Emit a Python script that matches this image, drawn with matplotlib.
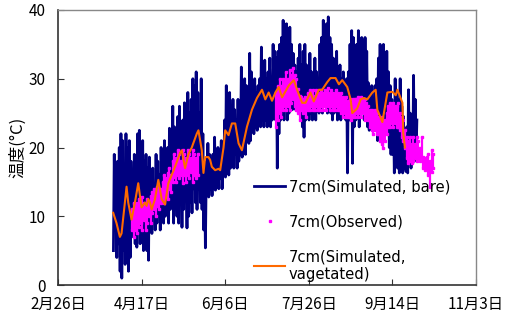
import matplotlib
matplotlib.use("Agg")
import matplotlib.pyplot as plt
import numpy as np

plt.rcParams['font.family'] = ['Noto Sans CJK JP', 'DejaVu Sans']

# ---- data (day index: 0 = 2月26日) ----
tick_days = [0, 50, 100, 150, 200, 250]
tick_labels = ['2月26日', '4月17日', '6月6日', '7月26日', '9月14日', '11月3日']
y_ticks = [0, 10, 20, 30, 40]

bare_start_day = 33
bare_max = [19, 17, 18, 20, 22, 21, 16, 22, 20, 21,
            18, 15, 19, 17, 22, 22.5, 20, 21, 18, 19,
            17, 18.6, 15, 17, 14, 19, 18, 16, 20, 19,
            21, 18, 20, 22.8, 19, 26, 23, 21, 24.5, 26,
            22, 24, 26.5, 20, 28, 25, 27, 30, 29, 31,
            28, 25, 30, 22, 18, 16, 20.6, 19, 17, 19,
            21.5, 18, 20, 19.6, 21, 17, 24, 29, 26.5, 28,
            26, 27, 25.5, 24, 27, 25.5, 31.7, 28, 30, 29,
            28, 33.7, 31, 29, 30, 28, 29, 30, 34.6, 32,
            32.7, 30, 31, 33, 30, 35, 34, 33, 34, 35,
            36, 38.5, 37.5, 38, 36, 37.5, 35, 33.7, 32, 31,
            33, 35, 32, 34, 35, 32, 30, 33.7, 31, 30,
            33, 31, 30, 35, 36, 38.5, 37, 38, 39, 36,
            35, 33, 30, 34, 31, 32, 30, 31, 29, 30,
            31, 35, 37, 36, 34, 35, 37, 34, 36, 35.6,
            36, 34, 29.4, 28, 29, 27, 29, 30, 33, 35,
            34, 35, 33, 34, 31, 29, 27, 25, 30, 28,
            27, 30, 26, 24.5, 22, 23, 28.4, 25, 22, 30.5, 27, 24]
bare_min = [5, 8, 4, 6, 2, 1, 5, 3, 6, 2,
            4, 7, 9, 6, 5.5, 8, 6, 7, 5, 6,
            5, 3.6, 8, 7.5, 10, 8, 9, 10, 8, 11,
            9, 10, 12, 9, 11, 13, 9, 12, 10, 9,
            12, 8.4, 11, 13, 8.3, 10, 12, 10.5, 14, 12,
            11, 14, 12, 11, 8, 5.4, 13, 12.8, 14, 13,
            14, 13.8, 15, 14, 15.5, 14, 16, 15.7, 17, 16,
            17, 18, 17, 19, 17, 18, 19, 18.6, 20, 19,
            21, 20.6, 21, 22.5, 22, 23, 22.5, 24, 23, 24,
            23, 24, 23, 25, 23, 24, 25, 24, 17, 22,
            24, 25, 24, 26, 24, 25, 26, 25.5, 26, 25.5,
            26, 25.5, 24, 23, 21.5, 24, 25, 24, 25, 24,
            25, 24, 26, 25, 26, 25, 27, 26, 25, 26,
            25, 24, 25, 26, 24, 25, 24, 24.5, 25, 24,
            16.3, 24, 25, 17.7, 23, 24, 25, 23, 25, 26,
            24, 25, 23, 22.5, 23, 24, 22.5, 23, 21, 24,
            22, 24, 21, 22, 23, 20, 19, 19, 16.3, 18,
            17, 16.3, 18, 16.3, 17, 16.5, 16.3, 18, 17, 17.7, 18, 19]

veg_days = [33, 35, 37, 38, 40, 41, 42, 44, 46, 48, 49, 50, 52, 53, 54, 55, 56, 58,
            60, 62, 64, 66, 68, 70, 73, 74, 76, 78, 80, 83, 84, 86, 87, 88, 90, 91,
            92, 94, 96, 97, 99, 100, 102, 104, 106, 108, 110, 113, 116, 119, 122, 124,
            126, 128, 130, 132, 134, 138, 141, 143, 146, 148, 151, 153, 156, 158, 161,
            163, 166, 168, 170, 173, 175, 176, 179, 181, 183, 185, 188, 190, 191, 194,
            197, 200, 202, 203, 206, 206.5, 207.5]
veg_vals = [10.5, 9, 7, 7.5, 12, 14.3, 12, 9.5, 12, 14.8, 13, 11.3, 12, 11.5, 12.5, 12, 11, 12.5,
            15.3, 12.5, 11.7, 14.8, 16, 17.2, 19.2, 19.6, 17, 19, 20, 22, 22.5, 19.6, 16.3, 18.6, 18.6, 18.2,
            17.2, 16.7, 16.9, 16.7, 20, 22.5, 21.8, 23.5, 23.5, 20.6, 19.6, 23, 25.5, 27.2, 28.4, 27,
            28, 26.8, 28, 28.8, 27.3, 29, 29.8, 28.4, 26.5, 26.5, 28, 26.7, 28.4, 28.4, 29.5,
            30.1, 30.1, 29.2, 29.8, 28.8, 27, 25, 25.7, 27, 27.2, 27, 28, 28.4, 25.5, 23.7,
            28, 28.1, 27.6, 28.4, 26.5, 22, 20]

obs1_start_day = 44
obs1_low = [8, 7, 8, 7.5, 8.5, 9, 8, 9.5, 8, 9, 10, 9, 10.5, 11, 10, 11.5, 11, 12,
            12.4, 12, 13, 12.5, 14, 13.5, 15, 15.7, 15, 16, 15.5, 16, 14.8, 16, 15, 16,
            15.5, 16.5, 15, 16, 15.5, 16]
obs1_high = [11, 12, 11.5, 12, 12.5, 12, 12.8, 12, 11.5, 12.5, 12, 13, 13.5, 14, 13.5, 14.3, 14, 14,
             15, 16, 15.5, 16.3, 17, 16, 18, 19, 18.5, 19.6, 19, 18, 19.6, 19, 18.5, 19.6,
             19, 18.5, 19.6, 19, 18.5, 19]
obs2_start_day = 130
obs2_low = [23, 24, 25, 24.5, 25.5, 26, 25.5, 26, 25.5, 26.5, 27, 26, 25.5, 25, 24,
            25.5, 25, 25.5, 24.5, 25.5, 25.5, 26, 25.5, 25.5, 26, 25.5, 25.5, 26, 25.5, 26,
            25.5, 26, 25.5, 26, 25.5, 25.5, 26, 25.5, 25.5, 25, 24.5, 25, 24.5, 24.5, 24.5,
            24, 24.5, 24.5, 25, 24.5, 25, 24.5, 25, 24, 24.5, 24, 23, 22.5, 22, 22.5,
            22, 22, 21, 20.5, 20, 21, 22, 23, 23, 23.5, 23, 23.5, 23, 23, 22.5,
            21.5, 21, 20, 18.5, 17.7, 18, 17.7, 18, 18.5, 18, 18.5, 18, 18.5, 17, 16.7,
            17, 16, 14.3, 16.5, 17]
obs2_high = [28, 29, 30, 29, 30, 29.5, 31, 30, 31.3, 30.5, 31.5, 30.5, 30, 28.5, 27.5,
             27.3, 27, 27.3, 27, 28, 28.4, 28, 28.4, 27.5, 28.4, 28, 27.8, 28.4, 28, 28.4,
             28, 28.6, 28, 28.4, 28, 27.8, 28.4, 28, 27.8, 28, 27.3, 27, 27.3, 26.8, 27,
             26.5, 27, 27, 27, 27.3, 27, 27.3, 27, 27, 26.5, 26, 25.5, 25.5, 25, 25.5,
             25, 24.5, 24, 24.4, 24, 24, 25, 26, 26.5, 26, 26.5, 26, 26, 26.5, 25,
             24.4, 24, 22.5, 21.5, 21, 21.5, 20.5, 21.5, 20.5, 21.5, 21, 20, 21.5, 18.6, 18.5,
             18.6, 19, 18, 19.6, 19]

# ---- figure ----
fig = plt.figure(figsize=(5.08, 3.17), dpi=100)
ax = fig.add_axes([58/508, 1-285/317, (476-58)/508, (285-10)/317])

NAVY = '#000080'
MAG = '#FF00FF'
ORANGE = '#FF6A00'

# bare: alternate daily minimum and maximum
bx, by = [], []
for i, (lo, hi) in enumerate(zip(bare_min, bare_max)):
    d = bare_start_day + i
    bx += [d + 0.15, d + 0.65]
    by += [lo, hi]
ax.plot(bx, by, color=NAVY, lw=2.0, zorder=2, label='7cm(Simulated, bare)')

# observed: daily range as dense dots
for start, lows, highs in [(obs1_start_day, obs1_low, obs1_high),
                           (obs2_start_day, obs2_low, obs2_high)]:
    days = np.arange(start, start + len(lows)) + 0.5
    ax.vlines(days, lows, highs, color=MAG, lw=1.6, zorder=3)
    ax.plot(days, lows, ls='none', marker='s', ms=1.6, color=MAG, zorder=3)
    ax.plot(days, highs, ls='none', marker='s', ms=1.6, color=MAG, zorder=3)
ax.plot([], [], ls='none', marker='s', ms=1.5, color=MAG, label='7cm(Observed)')

ax.plot(veg_days, veg_vals, color=ORANGE, lw=1.5, zorder=4,
        label='7cm(Simulated,\nvagetated)')

ax.set_xlim(tick_days[0], tick_days[-1])
ax.set_ylim(y_ticks[0], y_ticks[-1])
ax.set_xticks(tick_days)
ax.set_xticklabels(tick_labels)
ax.set_yticks(y_ticks)
ax.tick_params(direction='in', length=4, width=0.8, labelsize=11, colors='#333333',
               labelcolor='black')
ax.tick_params(axis='x', pad=8)
ax.tick_params(axis='y', pad=9)
for s in ['left', 'bottom']:
    ax.spines[s].set_color('#333333')
    ax.spines[s].set_linewidth(1.2)
for s in ['top', 'right']:
    ax.spines[s].set_color('#888888')
    ax.spines[s].set_linewidth(1.0)

ax.set_ylabel('温度(°C)', fontsize=12, labelpad=2)

leg = ax.legend(loc='upper left', bbox_to_anchor=(0.455, 0.405), frameon=False,
                prop={'family': ['DejaVu Sans'], 'size': 10.6},
                handlelength=2.1, handletextpad=0.25, labelspacing=1.35,
                borderaxespad=0)

fig.savefig('out.png', dpi=100)
